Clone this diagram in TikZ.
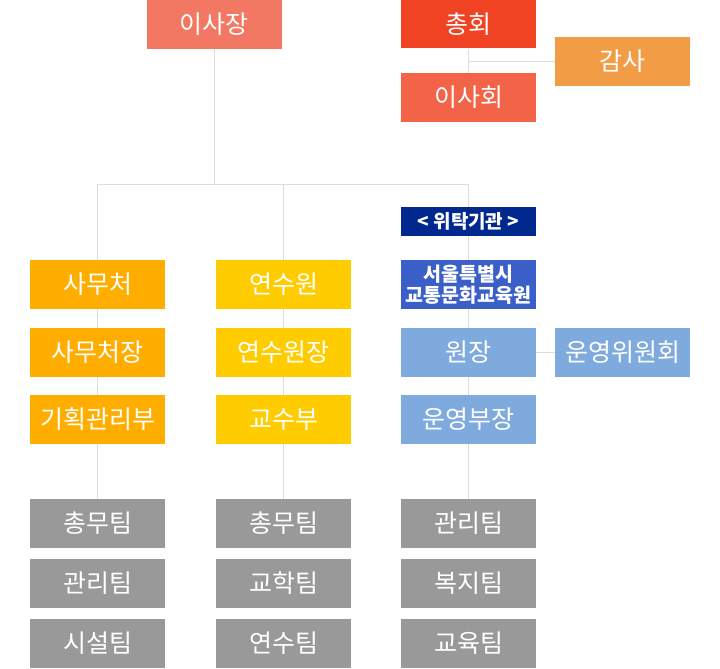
\documentclass[tikz,border=0pt]{standalone}
\usepackage{fontspec}
\setmainfont{Noto Sans CJK KR}
\usepackage{tikz}
\definecolor{chair}{RGB}{242,120,100}
\definecolor{general}{RGB}{240,67,35}
\definecolor{audit}{RGB}{242,157,70}
\definecolor{board}{RGB}{242,99,72}
\definecolor{navy}{RGB}{0,40,142}
\definecolor{inst}{RGB}{58,95,200}
\definecolor{sky}{RGB}{127,170,222}
\definecolor{office}{RGB}{255,174,0}
\definecolor{train}{RGB}{255,204,0}
\definecolor{team}{RGB}{153,153,153}
\definecolor{link}{RGB}{221,221,221}
\tikzset{
  orgbox/.style={fill=#1, text=white, minimum width=135pt, minimum height=49pt,
    inner sep=0pt, align=center, font=\fontsize{25}{27}\selectfont},
  teambox/.style={orgbox=team},
  wire/.style={draw=link, line width=1pt}
}
\newcommand{\orgnode}[5]{\node[orgbox=#4] (#1) at (#2,#3) {#5};}
\newcommand{\drawwire}{\draw[wire]}

\begin{document}
\begin{tikzpicture}[x=1pt,y=-1pt]
\useasboundingbox (0,0) rectangle (720,669);
% upper part
\orgnode{isajang}{214}{24.5}{chair}{이사장}
\orgnode{chonghoe}{468.5}{24}{general}{총회}
\orgnode{gamsa}{622.5}{61.5}{audit}{감사}
\orgnode{isahoe}{468.5}{97.5}{board}{이사회}
% consigned institute
\node[orgbox=navy, minimum height=29pt, font=\bfseries\fontsize{19}{21}\selectfont] (wituk) at (468.5,221.5) {< 위탁기관 >};
\node[orgbox=inst, font=\bfseries\fontsize{19.5}{20.5}\selectfont] (seoul) at (468.5,284.5) {서울특별시\\교통문화교육원};
\orgnode{wonjang}{468.5}{352.5}{sky}{원장}
\orgnode{unyeongwi}{622.5}{352.5}{sky}{운영위원회}
\orgnode{unyeongbu}{468.5}{419.5}{sky}{운영부장}
% office
\orgnode{samucheo}{97.5}{284.5}{office}{사무처}
\orgnode{samucheojang}{97.5}{352.5}{office}{사무처장}
\orgnode{gihoek}{97.5}{419.5}{office}{기획관리부}
% training centre
\orgnode{yeonsuwon}{283.5}{284.5}{train}{연수원}
\orgnode{yeonsuwonjang}{283.5}{352.5}{train}{연수원장}
\orgnode{gyosubu}{283.5}{419.5}{train}{교수부}
% teams
\foreach \name/\x/\y/\txt in {
  chongmuA/97.5/523.5/총무팀, gwanriA/97.5/583.5/관리팀, siseol/97.5/643.5/시설팀,
  chongmuB/283.5/523.5/총무팀, gyohak/283.5/583.5/교학팀, yeonsu/283.5/643.5/연수팀,
  gwanriC/468.5/523.5/관리팀, bokji/468.5/583.5/복지팀, gyoyuk/468.5/643.5/교육팀}
  \node[teambox] (\name) at (\x,\y) {\txt};
% connectors
\coordinate (hub) at (isajang.south |- 0,184);
\coordinate (gamsajoint) at (chonghoe.south |- gamsa.west);
\drawwire (chonghoe.south)--(isahoe.north);
\drawwire (gamsajoint)--(gamsa.west);
\drawwire (isajang.south)--(hub);
\drawwire (samucheo.north)--(samucheo.north |- hub)--(wituk.north |- hub)--(wituk.north);
\drawwire (yeonsuwon.north |- hub)--(yeonsuwon.north);
\drawwire (samucheo)--(samucheojang) (samucheojang)--(gihoek) (gihoek)--(chongmuA);
\drawwire (yeonsuwon)--(yeonsuwonjang) (yeonsuwonjang)--(gyosubu) (gyosubu)--(chongmuB);
\drawwire (wituk)--(seoul) (seoul)--(wonjang) (wonjang)--(unyeongbu) (unyeongbu)--(gwanriC);
\drawwire (wonjang)--(unyeongwi);
\end{tikzpicture}
\end{document}
